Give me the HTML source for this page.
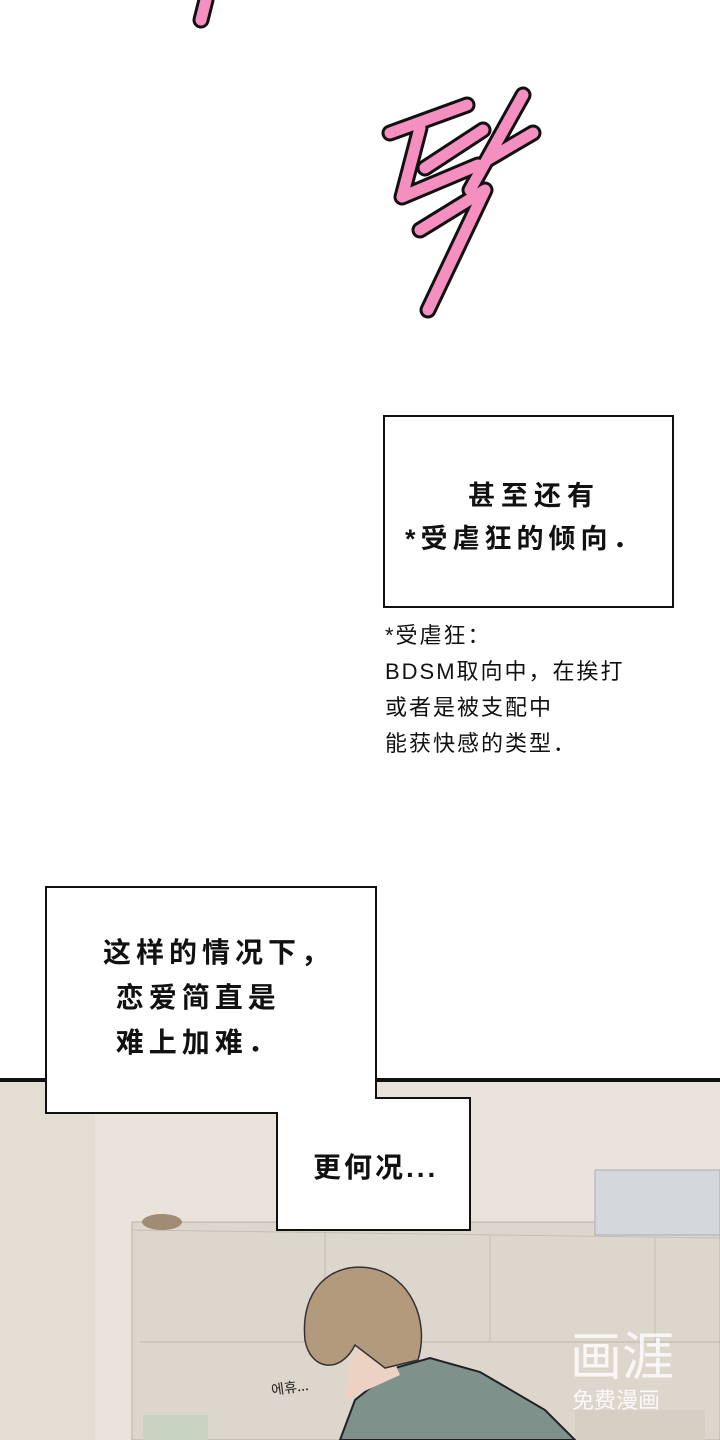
<!DOCTYPE html>
<html><head><meta charset="utf-8">
<style>
body{margin:0;width:720px;height:1440px;position:relative;overflow:hidden;background:#fff;font-family:"Liberation Sans","Noto Sans CJK SC",sans-serif;}
.box{position:absolute;background:#fff;border:2px solid #111;box-sizing:border-box;}
.t{position:absolute;color:#111;white-space:nowrap;font-weight:bold;}
</style></head><body>
<svg width="720" height="1440" style="position:absolute;left:0;top:0">
<g stroke-linecap="round" stroke-linejoin="round" fill="none">
<g stroke="#111" stroke-width="17">
<path d="M206,0 L201,20"/>
<path d="M390,133 L467,105"/><path d="M420,128 L402,197 L478,165"/><path d="M425,168 L483,130"/>
<path d="M523,95 L470,190"/><path d="M487,160 L533,133"/>
<path d="M420,230 L485,190 L428,310"/>
</g>
<g stroke="#f58fc0" stroke-width="11">
<path d="M206,0 L201,20"/>
<path d="M390,133 L467,105"/><path d="M420,128 L402,197 L478,165"/><path d="M425,168 L483,130"/>
<path d="M523,95 L470,190"/><path d="M487,160 L533,133"/>
<path d="M420,230 L485,190 L428,310"/>
</g></g>
<rect x="0" y="1081" width="720" height="359" fill="#e9e3db"/>
<rect x="0" y="1078" width="720" height="4" fill="#111"/>
<rect x="0" y="1082" width="95" height="358" fill="#e4ddd4"/>
<rect x="132" y="1222" width="588" height="218" fill="#ddd6cd" stroke="#b9b1a8"/>
<line x1="132" y1="1230" x2="720" y2="1238" stroke="#c6beb4"/>
<line x1="140" y1="1342" x2="720" y2="1342" stroke="#bfb7ad"/>
<line x1="325" y1="1232" x2="325" y2="1342" stroke="#c6beb4"/>
<line x1="490" y1="1235" x2="490" y2="1342" stroke="#c6beb4"/>
<line x1="655" y1="1238" x2="655" y2="1342" stroke="#c6beb4"/>
<rect x="595" y="1170" width="125" height="65" fill="#d4d7dc" stroke="#aab" />
<ellipse cx="162" cy="1222" rx="20" ry="8" fill="#a08c74"/>
<rect x="143" y="1415" width="65" height="25" fill="#c9d3c2"/>
<rect x="575" y="1410" width="130" height="30" fill="#d6d0c4"/>
<path d="M340,1440 L355,1400 L395,1368 L430,1358 L480,1372 L545,1410 L575,1440 Z" fill="#7e918b" stroke="#222" stroke-width="2"/>
<path d="M345,1400 L350,1355 L385,1340 L400,1375 Z" fill="#ecd2c2"/>
<path d="M305,1340 C300,1290 330,1262 370,1268 C410,1275 430,1320 418,1360 L385,1368 L355,1345 C340,1375 310,1370 305,1340 Z" fill="#b49a7c" stroke="#333" stroke-width="1.5"/>
<text x="570" y="1375" font-size="52" fill="#fff" fill-opacity="0.8" font-family="Noto Sans CJK SC,sans-serif">画涯</text>
<text x="572" y="1408" font-size="22" fill="#fff" fill-opacity="0.85" font-family="Noto Sans CJK SC,sans-serif">免费漫画</text>
<text x="272" y="1395" font-size="14" fill="#222" font-family="Noto Sans CJK KR,sans-serif" transform="rotate(-8 272 1395)">에휴...</text>
</svg>

<div class="box" style="left:383px;top:415px;width:291px;height:193px"></div>
<div class="t" style="left:468px;top:474px;font-size:27px;letter-spacing:6px;">甚至还有</div>
<div class="t" style="left:405px;top:517px;font-size:27px;letter-spacing:5px;">*受虐狂的倾向．</div>

<div class="t" style="left:385px;top:618px;font-size:22px;line-height:36px;letter-spacing:2px;font-weight:normal;">*受虐狂：<br>BDSM取向中，在挨打<br>或者是被支配中<br>能获快感的类型．</div>

<div class="box" style="left:45px;top:886px;width:332px;height:228px"></div>
<div class="box" style="left:276px;top:1097px;width:195px;height:134px"></div>
<div style="position:absolute;left:47px;top:1080px;width:328px;height:32px;background:#fff"></div>
<div style="position:absolute;left:278px;top:1096px;width:97px;height:18px;background:#fff"></div>
<div class="t" style="left:103px;top:930px;font-size:28px;line-height:45px;letter-spacing:5px;">这样的情况下，<br>&nbsp;恋爱简直是<br>&nbsp;难上加难．</div>
<div class="t" style="left:313px;top:1146px;font-size:28px;letter-spacing:3px;">更何况...</div>
</body></html>
